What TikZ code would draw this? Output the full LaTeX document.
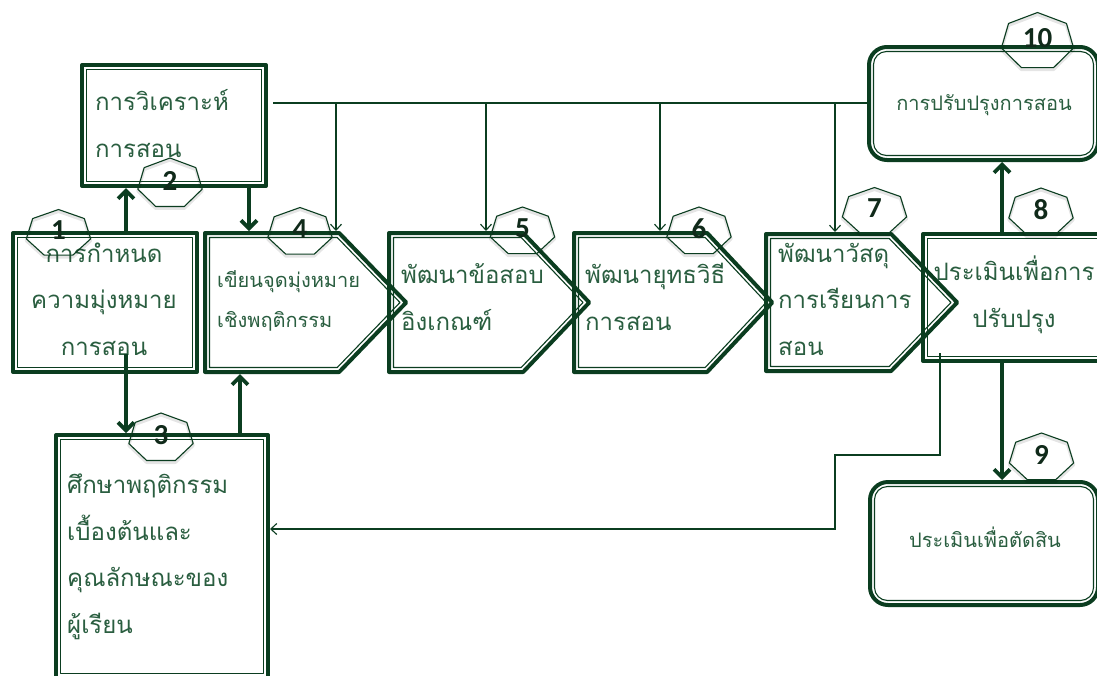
\documentclass[tikz,border=0pt]{standalone}
\usepackage{fontspec}
\newfontfamily\thai[Script=Thai]{Loma}
\newfontfamily\numfont{Carlito}
\usetikzlibrary{arrows.meta,calc}
\definecolor{dg}{HTML}{0B3D20}
\definecolor{tg}{HTML}{2A5E40}
\definecolor{ng}{HTML}{102A1A}
\tikzset{
  outerln/.style={draw=dg,line width=4pt,line join=round},
  innerln/.style={draw=dg,line width=1.1pt,line join=round},
  boxnode/.style={inner sep=0pt,outer sep=0pt},
  txt/.style={font=\thai\fontsize{24}{46.5}\selectfont,text=tg,inner sep=0pt},
  smalltxt/.style={font=\thai\fontsize{20}{40}\selectfont,text=tg,inner sep=0pt},
  numtxt/.style={font=\numfont\bfseries\fontsize{29}{29}\selectfont,text=ng,inner sep=0pt},
  heptln/.style={draw=dg,line width=1.1pt,line join=round},
  heptshadow/.style={draw=black,opacity=.10,line width=3pt,line join=round},
  bigarrow/.style={draw=dg,line width=3.8pt,-{Straight Barb[length=8pt,width=16pt]}},
  thinarrow/.style={draw=dg,line width=1.1pt,-{Straight Barb[length=6pt,width=11pt]}},
  thinline/.style={draw=dg,line width=1.1pt}
}
\newcommand\rbox[5]{%
  \node[boxnode,minimum width={#4-#2},minimum height={#5-#3}] (#1) at ({(#2+#4)/2},{(#3+#5)/2}) {};
  \draw[outerln] ([shift={(2,2)}]#1.north west) rectangle ([shift={(-2,-2)}]#1.south east);
  \draw[innerln] ([shift={(6.5,6.5)}]#1.north west) rectangle ([shift={(-6.5,-6.5)}]#1.south east);
}
\newcommand\rrbox[5]{%
  \node[boxnode,minimum width={#4-#2},minimum height={#5-#3}] (#1) at ({(#2+#4)/2},{(#3+#5)/2}) {};
  \draw[outerln,rounded corners=18pt] ([shift={(2,2)}]#1.north west) rectangle ([shift={(-2,-2)}]#1.south east);
  \draw[innerln,rounded corners=13pt] ([shift={(6.5,6.5)}]#1.north west) rectangle ([shift={(-6.5,-6.5)}]#1.south east);
}
\newcommand\pbox[6]{%
  \node[boxnode,minimum width={#6-#2},minimum height={#4-#3}] (#1) at ({(#2+#6)/2},{(#3+#4)/2}) {};
  \pgfmathsetmacro\pH{(#4-#3)/2}
  \pgfmathsetmacro\pW{#6-#5}
  \pgfmathsetmacro\pMid{(#3+#4)/2}
  \pgfmathsetmacro\pS{sqrt(\pW*\pW+\pH*\pH)/\pH}
  \pgfmathsetmacro\pK{\pW/\pH}
  \draw[outerln] ({#2+2},{#3+2}) -- ({#5+2*\pK-2*\pS},{#3+2}) -- ({#6-2*\pS},\pMid)
     -- ({#5+2*\pK-2*\pS},{#4-2}) -- ({#2+2},{#4-2}) -- cycle;
  \draw[innerln] ({#2+6.5},{#3+6.5}) -- ({#5+6.5*\pK-6.5*\pS},{#3+6.5}) -- ({#6-6.5*\pS},\pMid)
     -- ({#5+6.5*\pK-6.5*\pS},{#4-6.5}) -- ({#2+6.5},{#4-6.5}) -- cycle;
}
\newcommand\hept[6]{%
  \node[numtxt] (#1) at (#2,{#3-3}) {#6};
  \draw[heptshadow] ($(#1.center)+(0,5)+(-90:#4 and #5)$)
    \foreach \k in {1,...,6}{ -- ($(#1.center)+(0,5)+({-90+\k*360/7}:#4 and #5)$)} -- cycle;
  \draw[heptln] ($(#1.center)+(0,3)+(-90:#4 and #5)$)
    \foreach \k in {1,...,6}{ -- ($(#1.center)+(0,3)+({-90+\k*360/7}:#4 and #5)$)} -- cycle;
}
\begin{document}
\begin{tikzpicture}[x=1pt,y=-1pt]
\useasboundingbox[fill=white] (0,0) rectangle (1097,675);
% boxes
\rbox{b2}{80}{63}{268}{188}
\rbox{b1}{11}{231}{199}{374}
\rbox{b3}{54}{433}{270}{680}
\pbox{b4}{203}{231}{374}{340}{409}
\pbox{b5}{387}{231}{374}{524}{592}
\pbox{b6}{572}{231}{374}{708}{775}
\pbox{b7}{764}{232}{373}{892}{960}
\rbox{b8}{921}{232}{1104}{363}
\rrbox{b10}{867}{45}{1100}{162}
\rrbox{b9}{868}{480}{1100}{607}
% texts (anchor = baseline of last line)
\node[txt,anchor=base,align=center] (t1) at (104,355) {การกำหนด\\ความมุ่งหมาย\\การสอน};
\node[txt,anchor=base west,align=left] (t2) at (95,157) {การวิเคราะห์\\การสอน};
\node[txt,anchor=base west,align=left] (t3) at (67,633) {ศึกษาพฤติกรรม\\เบื้องต้นและ\\คุณลักษณะของ\\ผู้เรียน};
\node[smalltxt,anchor=base west,align=left] (t4) at (217,327) {เขียนจุดมุ่งหมาย\\เชิงพฤติกรรม};
\node[txt,anchor=base west,align=left] (t5) at (401,330) {พัฒนาข้อสอบ\\อิงเกณฑ์};
\node[txt,anchor=base west,align=left] (t6) at (585,330) {พัฒนายุทธวิธี\\การสอน};
\node[txt,anchor=base west,align=left] (t7) at (778,355) {พัฒนาวัสดุ\\การเรียนการ\\สอน};
\node[txt,anchor=base,align=center] (t8) at (1014,327) {ประเมินเพื่อการ\\ปรับปรุง};
\node[smalltxt,anchor=base] (t10) at (984,110) {การปรับปรุงการสอน};
\node[smalltxt,anchor=base] (t9) at (985,547) {ประเมินเพื่อตัดสิน};
% thick connectors
\draw[bigarrow] (b1.north -| 126,0) -- (b2.south -| 126,0);
\draw[bigarrow] (b2.south -| 249,0) -- (b4.north -| 249,0);
\draw[bigarrow] ($(b1.south -| 126,0)+(0,-20)$) -- (b3.north -| 126,0);
\draw[bigarrow] (b3.north -| 240,0) -- (b4.south -| 240,0);
\draw[bigarrow] (b8.north -| 1002,0) -- (b10.south -| 1002,0);
\draw[bigarrow] (b8.south -| 1002,0) -- (b9.north -| 1002,0);
% bus from analysis to improvement
\coordinate (busL) at ($(b2.east |- 0,103)+(5,0)$);
\draw[thinline] (busL) -- (b10.west |- busL);
\draw[thinarrow] (busL -| 336,0) -- (b4.north -| 336,0);
\draw[thinarrow] (busL -| 486,0) -- (b5.north -| 486,0);
\draw[thinarrow] (busL -| 660,0) -- (b6.north -| 660,0);
\draw[thinarrow] (busL -| 835,0) -- (b7.north -| 835,0);
% feedback to learner study
\draw[thinarrow] ($(b8.south -| 940,0)+(0,-10)$) |- (835,455) |- (b3.east |- 0,529);
% badges
\hept{n1}{58.5}{233.5}{33}{24}{1}
\hept{n2}{170}{183.5}{33}{25.5}{2}
\hept{n3}{161}{438}{33}{25}{3}
\hept{n4}{300}{232}{33}{24.5}{4}
\hept{n5}{522.5}{231.5}{33}{24.5}{5}
\hept{n6}{699}{231.5}{33}{24.5}{6}
\hept{n7}{874.5}{211.5}{33}{24}{7}
\hept{n8}{1041}{212.5}{33}{24.5}{8}
\hept{n9}{1041.5}{457.5}{33}{24.5}{9}
\hept{n10}{1037.5}{41.5}{37}{29}{10}
\end{tikzpicture}
\end{document}
